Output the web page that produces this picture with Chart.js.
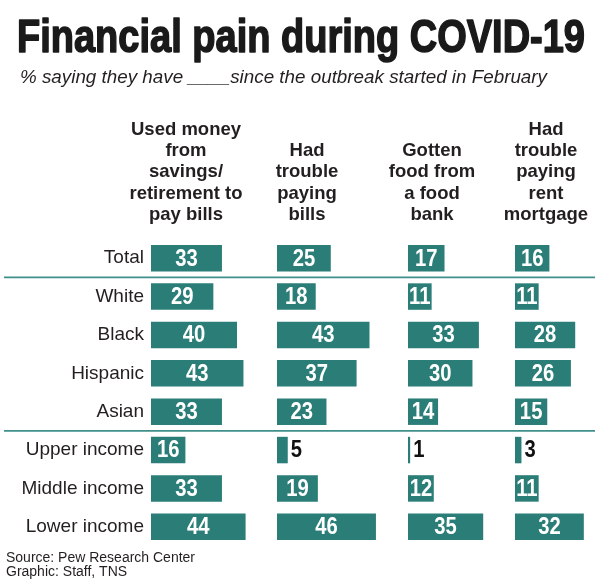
<!DOCTYPE html>
<html>
<head>
<meta charset="utf-8">
<script src="https://cdn.jsdelivr.net/npm/chart.js@4"></script>
<style>
  html, body { margin: 0; padding: 0; background: #fff; }
  #wrap { width: 600px; height: 582px; position: relative; }
</style>
</head>
<body>
<div id="wrap"><canvas id="painChart"></canvas></div>
<script>
// --- DATA ---
const GROUPS = ["Total", "White", "Black", "Hispanic", "Asian", "Upper income", "Middle income", "Lower income"];
const SAVINGS = [33, 29, 40, 43, 33, 16, 33, 44];
const BILLS = [25, 18, 43, 37, 23, 5, 19, 46];
const FOOD_BANK = [17, 11, 33, 30, 14, 1, 12, 35];
const RENT = [16, 11, 28, 26, 15, 3, 11, 32];

const HEADER_SAVINGS = ["Used money", "from", "savings/", "retirement to", "pay bills"];
const HEADER_BILLS = ["Had", "trouble", "paying", "bills"];
const HEADER_FOOD = ["Gotten", "food from", "a food", "bank"];
const HEADER_RENT = ["Had", "trouble", "paying", "rent", "mortgage"];

const TITLE = "Financial pain during COVID-19";
const SUBTITLE = "% saying they have ____since the outbreak started in February";
const SOURCE = ["Source: Pew Research Center", "Graphic: Staff, TNS"];

// --- LOOK ---
const TEAL = "#2b7e78";
const RULE = "#3f8f8a";
const INK = "#231f20";
const SANS = "'Liberation Sans', Arial, sans-serif";
const SERIES = [SAVINGS, BILLS, FOOD_BANK, RENT];
const HEADERS = [HEADER_SAVINGS, HEADER_BILLS, HEADER_FOOD, HEADER_RENT];
const COL_WEIGHT = [126, 131, 107, 80];      // width share of each panel
const COL_MAX = [58.6, 60.9, 49.8, 37.2];    // same px per point in every panel
const HEADER_CX = [186, 307, 432, 546];
const RULE_AFTER = [0, 4];                   // lines under Total and Asian

// draw text squeezed/stretched to a given width
function fitText(ctx, text, x, y, width) {
    const w = ctx.measureText(text).width;
    ctx.save();
    ctx.translate(x, y);
    ctx.scale(width / w, 1);
    ctx.fillText(text, 0, 0);
    ctx.restore();
}

// condensed look: squeeze text horizontally around its anchor
function narrowText(ctx, text, x, y, sx) {
    ctx.save();
    ctx.translate(x, y);
    ctx.scale(sx, 1);
    ctx.fillText(text, 0, 0);
    ctx.restore();
}

const decorations = {
    id: "decorations",
    afterDraw(chart) {
        const ctx = chart.ctx;
        const y = chart.scales.y;
        ctx.save();

        // title
        ctx.fillStyle = "#1b1a1a";
        ctx.strokeStyle = "#1b1a1a";
        ctx.textAlign = "left";
        ctx.textBaseline = "alphabetic";
        ctx.font = "bold 47px " + SANS;
        const tw = ctx.measureText(TITLE).width;
        ctx.save();
        ctx.translate(17, 52);
        ctx.scale(568 / tw, 1);
        ctx.lineWidth = 1.6;
        ctx.lineJoin = "round";
        ctx.fillText(TITLE, 0, 0);
        ctx.strokeText(TITLE, 0, 0);
        ctx.restore();

        // subtitle
        ctx.fillStyle = INK;
        ctx.font = "italic 18.5px " + SANS;
        fitText(ctx, SUBTITLE, 20, 83, 527);

        // column headers, bottom aligned
        ctx.font = "bold 18.5px " + SANS;
        ctx.textAlign = "center";
        HEADERS.forEach((lines, i) => {
            lines.forEach((line, j) => {
                const by = 220 - (lines.length - 1 - j) * 21.3;
                ctx.fillText(line, HEADER_CX[i], by);
            });
        });

        // separator rules
        ctx.strokeStyle = RULE;
        ctx.lineWidth = 1.8;
        RULE_AFTER.forEach(idx => {
            const ly = (y.getPixelForValue(idx) + y.getPixelForValue(idx + 1)) / 2;
            ctx.beginPath();
            ctx.moveTo(4, ly);
            ctx.lineTo(595, ly);
            ctx.stroke();
        });

        // value labels
        ctx.font = "bold 23px " + SANS;
        ctx.textBaseline = "middle";
        chart.data.datasets.forEach((ds, di) => {
            chart.getDatasetMeta(di).data.forEach((bar, k) => {
                const v = ds.data[k];
                if (v >= 10) {
                    ctx.fillStyle = "#ffffff";
                    ctx.textAlign = "center";
                    narrowText(ctx, String(v), (bar.x + bar.base) / 2, bar.y + 1, 0.88);
                } else {
                    ctx.fillStyle = "#111111";
                    ctx.textAlign = "left";
                    narrowText(ctx, String(v), bar.x + 3, bar.y + 1, 0.88);
                }
            });
        });

        // source
        ctx.fillStyle = INK;
        ctx.textAlign = "left";
        ctx.textBaseline = "alphabetic";
        ctx.font = "14px " + SANS;
        fitText(ctx, SOURCE[0], 6, 561.5, 189);
        ctx.fillText(SOURCE[1], 6, 576);

        ctx.restore();
    }
};

const xScales = {};
SERIES.forEach((s, i) => {
    xScales["x" + i] = {
        type: "linear",
        position: "bottom",
        stack: "panels",
        stackWeight: COL_WEIGHT[i],
        min: 0,
        max: COL_MAX[i],
        display: false
    };
});

const ctx = document.getElementById("painChart").getContext("2d");
const chart = new Chart(ctx, {
    type: "bar",
    data: {
        labels: GROUPS,
        datasets: SERIES.map((s, i) => ({
            data: s,
            xAxisID: "x" + i,
            yAxisID: "y",
            backgroundColor: TEAL,
            borderWidth: 0,
            grouped: false,
            categoryPercentage: 1,
            barPercentage: 0.69
        }))
    },
    options: {
        indexAxis: "y",
        responsive: true,
        maintainAspectRatio: false,
        animation: false,
        layout: { padding: { top: 239, bottom: 36, left: 0, right: 5 } },
        scales: Object.assign({
            y: {
                type: "category",
                grid: { display: false, drawTicks: false, tickLength: 0 },
                border: { display: false },
                ticks: {
                    color: INK,
                    padding: 7,
                    font: { family: SANS, size: 19 }
                },
                afterFit: scale => { scale.width = 151; }
            }
        }, xScales),
        plugins: {
            legend: { display: false },
            tooltip: { enabled: false }
        }
    },
    plugins: [decorations]
});
</script>
</body>
</html>
